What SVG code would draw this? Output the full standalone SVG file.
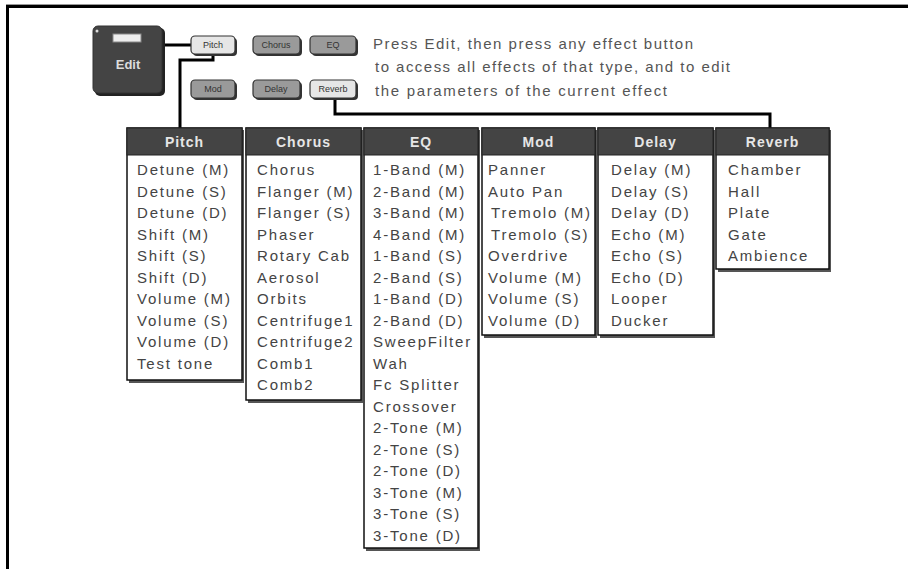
<svg xmlns="http://www.w3.org/2000/svg" width="908" height="569" viewBox="0 0 908 569">
<style>
.frame{fill:none;stroke:#000;stroke-width:3}
.wire{fill:none;stroke:#000;stroke-width:3}
.hdr{fill:#444;stroke:#222;stroke-width:1}
.body{fill:#fff;stroke:#111;stroke-width:1.5}
.shadow{fill:#555}
.ht{font-family:"Liberation Sans",Arial,sans-serif;font-size:14px;font-weight:bold;fill:#e6e6e6;text-anchor:middle;letter-spacing:1px}
.it{font-family:"Liberation Sans",Arial,sans-serif;font-size:15px;fill:#444;letter-spacing:1.8px}
.note{font-family:"Liberation Sans",Arial,sans-serif;font-size:15px;fill:#555}
.btnL{fill:#e6e6e6;stroke:#333;stroke-width:1.2}
.btnG{fill:#9a9a9a;stroke:#333;stroke-width:1.2}
.bt{font-family:"Liberation Sans",Arial,sans-serif;font-size:9px;fill:#333;text-anchor:middle}
</style>
<rect width="908" height="569" fill="#fff"/>
<line x1="6" y1="4.5" x2="908" y2="4.5" stroke="#999" stroke-width="1"/>
<path class="frame" d="M7.5,569 V6.5 H908"/>

<g id="connectors">
<line class="wire" x1="163" y1="45" x2="191" y2="45" stroke-width="2"/>
<path class="wire" d="M213,55 V60 H180 V129"/>
<path class="wire" d="M335,99 V114 H770 V129"/>
</g>

<g id="edit">
<rect x="95" y="28" width="70" height="68" rx="5" fill="#222"/>
<rect x="93" y="26" width="69" height="67" rx="5" fill="#444" stroke="#333"/>
<circle cx="97" cy="31" r="1.5" fill="#ddd"/>
<rect x="113" y="34" width="28" height="8" fill="#eee" stroke="#888" stroke-width="1"/>
<text x="128" y="69" font-family="'Liberation Sans',Arial,sans-serif" font-size="13" font-weight="bold" fill="#ddd" text-anchor="middle">Edit</text>
</g>

<g id="btn-pitch"><rect x="193" y="38" width="44" height="18" rx="4" fill="#333"/><rect class="btnL" x="191" y="36" width="44" height="18" rx="4"/><text class="bt" x="213" y="48">Pitch</text></g>
<g id="btn-chorus"><rect x="255" y="38" width="47" height="18" rx="4" fill="#333"/><rect class="btnG" x="253" y="36" width="47" height="18" rx="4"/><text class="bt" x="276" y="48">Chorus</text></g>
<g id="btn-eq"><rect x="312" y="38" width="46" height="18" rx="4" fill="#333"/><rect class="btnG" x="310" y="36" width="46" height="18" rx="4"/><text class="bt" x="333" y="48">EQ</text></g>
<g id="btn-mod"><rect x="193" y="82" width="44" height="18" rx="4" fill="#333"/><rect class="btnG" x="191" y="80" width="44" height="18" rx="4"/><text class="bt" x="213" y="92">Mod</text></g>
<g id="btn-delay"><rect x="255" y="82" width="47" height="18" rx="4" fill="#333"/><rect class="btnG" x="253" y="80" width="47" height="18" rx="4"/><text class="bt" x="276" y="92">Delay</text></g>
<g id="btn-reverb"><rect x="312" y="82" width="46" height="18" rx="4" fill="#333"/><rect class="btnL" x="310" y="80" width="46" height="18" rx="4"/><text class="bt" x="333" y="92">Reverb</text></g>

<g id="note">
<text class="note" x="373" y="49" textLength="320" lengthAdjust="spacing">Press Edit, then press any effect button</text>
<text class="note" x="375" y="72" textLength="355" lengthAdjust="spacing">to access all effects of that type, and to edit</text>
<text class="note" x="375" y="96" textLength="292" lengthAdjust="spacing">the parameters of the current effect</text>
</g>

<g id="col-pitch">
<rect class="shadow" x="129" y="130" width="115" height="253"/>
<rect class="body" x="127" y="128" width="115" height="252"/>
<rect class="hdr" x="127" y="128" width="115" height="27"/>
<text class="ht" x="184.5" y="147">Pitch</text>
<text class="it" x="137" y="175">Detune (M)</text>
<text class="it" x="137" y="196.5">Detune (S)</text>
<text class="it" x="137" y="218">Detune (D)</text>
<text class="it" x="137" y="239.5">Shift (M)</text>
<text class="it" x="137" y="261">Shift (S)</text>
<text class="it" x="137" y="282.5">Shift (D)</text>
<text class="it" x="137" y="304">Volume (M)</text>
<text class="it" x="137" y="325.5">Volume (S)</text>
<text class="it" x="137" y="347">Volume (D)</text>
<text class="it" x="137" y="368.5">Test tone</text>
</g>

<g id="col-chorus">
<rect class="shadow" x="248" y="130" width="115" height="273"/>
<rect class="body" x="246" y="128" width="115" height="272"/>
<rect class="hdr" x="246" y="128" width="115" height="27"/>
<text class="ht" x="303.5" y="147">Chorus</text>
<text class="it" x="257" y="175">Chorus</text>
<text class="it" x="257" y="196.5">Flanger (M)</text>
<text class="it" x="257" y="218">Flanger (S)</text>
<text class="it" x="257" y="239.5">Phaser</text>
<text class="it" x="257" y="261">Rotary Cab</text>
<text class="it" x="257" y="282.5">Aerosol</text>
<text class="it" x="257" y="304">Orbits</text>
<text class="it" x="257" y="325.5">Centrifuge1</text>
<text class="it" x="257" y="347">Centrifuge2</text>
<text class="it" x="257" y="368.5">Comb1</text>
<text class="it" x="257" y="390">Comb2</text>
</g>

<g id="col-eq">
<rect class="shadow" x="366" y="130" width="114" height="421"/>
<rect class="body" x="364" y="128" width="114" height="420"/>
<rect class="hdr" x="364" y="128" width="114" height="27"/>
<text class="ht" x="421" y="147">EQ</text>
<text class="it" x="373" y="175">1-Band (M)</text>
<text class="it" x="373" y="196.5">2-Band (M)</text>
<text class="it" x="373" y="218">3-Band (M)</text>
<text class="it" x="373" y="239.5">4-Band (M)</text>
<text class="it" x="373" y="261">1-Band (S)</text>
<text class="it" x="373" y="282.5">2-Band (S)</text>
<text class="it" x="373" y="304">1-Band (D)</text>
<text class="it" x="373" y="325.5">2-Band (D)</text>
<text class="it" x="373" y="347">SweepFilter</text>
<text class="it" x="373" y="368.5">Wah</text>
<text class="it" x="373" y="390">Fc Splitter</text>
<text class="it" x="373" y="411.5">Crossover</text>
<text class="it" x="373" y="433">2-Tone (M)</text>
<text class="it" x="373" y="454.5">2-Tone (S)</text>
<text class="it" x="373" y="476">2-Tone (D)</text>
<text class="it" x="373" y="497.5">3-Tone (M)</text>
<text class="it" x="373" y="519">3-Tone (S)</text>
<text class="it" x="373" y="540.5">3-Tone (D)</text>
</g>

<g id="col-mod">
<rect class="shadow" x="484" y="130" width="113" height="208"/>
<rect class="body" x="482" y="128" width="113" height="207"/>
<rect class="hdr" x="482" y="128" width="113" height="27"/>
<text class="ht" x="538.5" y="147">Mod</text>
<text class="it" x="488" y="175">Panner</text>
<text class="it" x="488" y="196.5">Auto Pan</text>
<text class="it" x="491" y="218">Tremolo (M)</text>
<text class="it" x="491" y="239.5">Tremolo (S)</text>
<text class="it" x="488" y="261">Overdrive</text>
<text class="it" x="488" y="282.5">Volume (M)</text>
<text class="it" x="488" y="304">Volume (S)</text>
<text class="it" x="488" y="325.5">Volume (D)</text>
</g>

<g id="col-delay">
<rect class="shadow" x="600" y="130" width="115" height="208"/>
<rect class="body" x="598" y="128" width="115" height="207"/>
<rect class="hdr" x="598" y="128" width="115" height="27"/>
<text class="ht" x="655.5" y="147">Delay</text>
<text class="it" x="611" y="175">Delay (M)</text>
<text class="it" x="611" y="196.5">Delay (S)</text>
<text class="it" x="611" y="218">Delay (D)</text>
<text class="it" x="611" y="239.5">Echo (M)</text>
<text class="it" x="611" y="261">Echo (S)</text>
<text class="it" x="611" y="282.5">Echo (D)</text>
<text class="it" x="611" y="304">Looper</text>
<text class="it" x="611" y="325.5">Ducker</text>
</g>

<g id="col-reverb">
<rect class="shadow" x="718" y="130" width="113" height="142"/>
<rect class="body" x="716" y="128" width="113" height="141"/>
<rect class="hdr" x="716" y="128" width="113" height="27"/>
<text class="ht" x="772.5" y="147">Reverb</text>
<text class="it" x="728" y="175">Chamber</text>
<text class="it" x="728" y="196.5">Hall</text>
<text class="it" x="728" y="218">Plate</text>
<text class="it" x="728" y="239.5">Gate</text>
<text class="it" x="728" y="261">Ambience</text>
</g>
</svg>
